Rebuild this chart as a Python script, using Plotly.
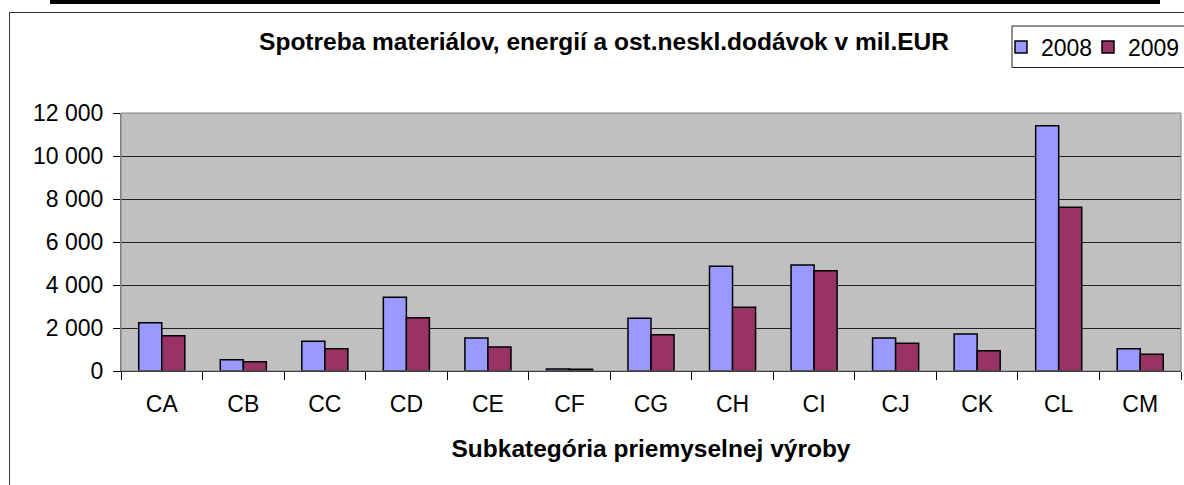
import plotly.graph_objects as go

categories = ["CA", "CB", "CC", "CD", "CE", "CF", "CG", "CH", "CI", "CJ", "CK", "CL", "CM"]
values_2008 = [2250, 520, 1380, 3430, 1535, 90, 2450, 4870, 4930, 1537, 1723, 11410, 1040]
values_2009 = [1645, 430, 1040, 2480, 1116, 80, 1690, 2960, 4665, 1290, 947, 7620, 776]
series_names = ["2008", "2009"]
y_ticks = [0, 2000, 4000, 6000, 8000, 10000, 12000]

FONT = "Liberation Sans, Arial, sans-serif"
W, H = 1184, 485
L, R, T, B = 121, 3, 113, 114
PW, PH = W - L - R, H - T - B


def px_x(p):
    return (p - L) / PW


def px_y(p):
    return (H - B - p) / PH


fig = go.Figure()
fig.add_trace(go.Bar(x=categories, y=values_2008, name=series_names[0], legendwidth=42,
                     marker=dict(color="#9999FF", line=dict(color="black", width=1.5))))
fig.add_trace(go.Bar(x=categories, y=values_2009, name=series_names[1], legendwidth=47,
                     marker=dict(color="#993366", line=dict(color="black", width=1.5))))

fig.update_layout(
    width=W, height=H,
    margin=dict(l=L, r=R, t=T, b=B, pad=0, autoexpand=False),
    paper_bgcolor="white",
    plot_bgcolor="#C0C0C0",
    barmode="group", bargap=0.435, bargroupgap=0,
    separators=", ",
    font=dict(family=FONT, size=23, color="black"),
    title=dict(text="<b>Spotreba materiálov, energií a ost.neskl.dodávok v mil.EUR</b>",
               font=dict(family=FONT, size=24.5, color="black"),
               x=604 / W, xref="container", xanchor="center",
               y=1 - 41 / H, yref="container", yanchor="middle"),
    showlegend=True,
    legend=dict(orientation="h", x=px_x(1001), y=px_y(47), xanchor="left", yanchor="middle",
                borderwidth=0, bgcolor="rgba(0,0,0,0)",
                font=dict(family=FONT, size=23), itemwidth=30, tracegroupgap=0),
    xaxis=dict(
        tickson="boundaries", ticks="outside", ticklen=8, tickcolor="black", tickwidth=1,
        showline=True, linecolor="black", linewidth=1,
        tickfont=dict(family=FONT, size=23), ticklabelstandoff=12,
        title=dict(text="<b>Subkategória priemyselnej výroby</b>", font=dict(family=FONT, size=24.5), standoff=24),
        showgrid=False, automargin=False,
    ),
    yaxis=dict(
        range=[0, 12000], tickvals=y_ticks, tickformat=",d",
        ticks="outside", ticklen=7, tickcolor="black", tickwidth=1,
        showline=True, linecolor="#808080", linewidth=1,
        showgrid=True, gridcolor="#222222", gridwidth=1,
        tickfont=dict(family=FONT, size=23), ticklabelstandoff=5,
        zeroline=False, automargin=False,
    ),
)

# plot-area frame
fig.add_shape(type="rect", xref="paper", yref="paper", x0=0, x1=1, y0=0, y1=1,
              line=dict(color="#808080", width=1), fillcolor="rgba(0,0,0,0)", layer="above")
# outer chart border (left + top)
fig.add_shape(type="line", xref="paper", yref="paper", x0=px_x(9.5), x1=px_x(9.5), y0=px_y(12.5), y1=px_y(495),
              line=dict(color="#333333", width=1))
fig.add_shape(type="line", xref="paper", yref="paper", x0=px_x(9.5), x1=px_x(1195), y0=px_y(12.5), y1=px_y(12.5),
              line=dict(color="#333333", width=1))
# black band at the top
fig.add_shape(type="rect", xref="paper", yref="paper", x0=px_x(50), x1=px_x(1160), y0=px_y(4), y1=px_y(-5),
              line=dict(width=0), fillcolor="black")
# legend frame
fig.add_shape(type="rect", xref="paper", yref="paper", x0=px_x(1012), x1=px_x(1200), y0=px_y(67.5), y1=px_y(26),
              line=dict(color="#222222", width=1), fillcolor="white", layer="below")

fig.write_html("out.html", config={"displayModeBar": False},
               post_script="document.body.style.margin='0';document.body.style.overflow='hidden';")
